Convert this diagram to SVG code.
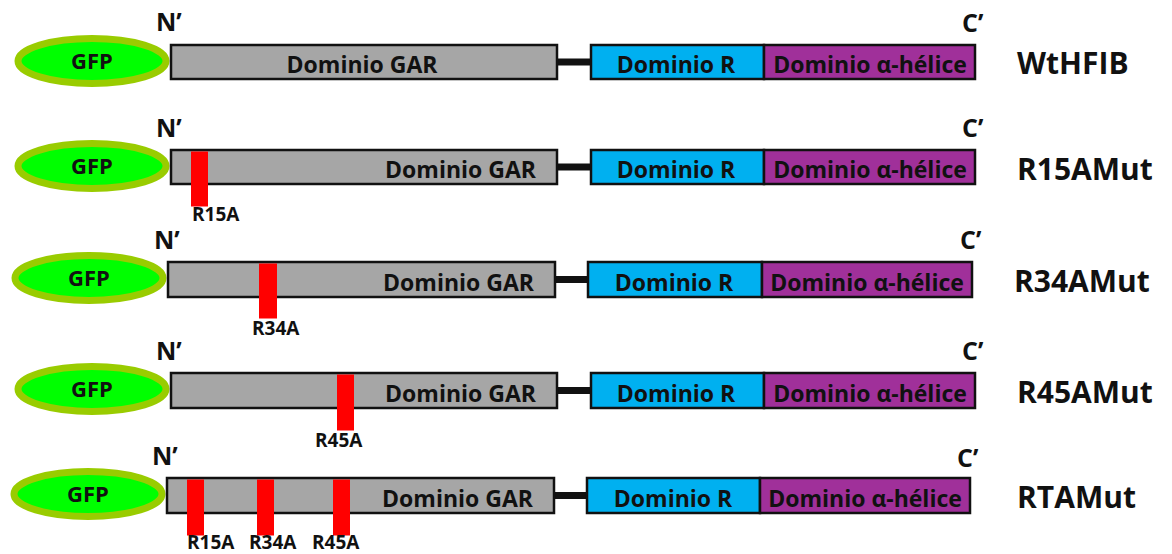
<svg xmlns="http://www.w3.org/2000/svg" width="1172" height="554" viewBox="0 0 1172 554">
  <style>
    text { font-family: "Open Sans", "Liberation Sans", sans-serif; font-weight: bold; fill: #111; }
    .gfp { fill: #00FF00; stroke: #99CC00; stroke-width: 7; }
    .gar { fill: #A6A6A6; stroke: #111; stroke-width: 2.5; }
    .dr { fill: #00B0F0; stroke: #111; stroke-width: 2.5; }
    .hel { fill: #A0309A; stroke: #111; stroke-width: 2.5; }
    .mut { fill: #FF0000; }
    .link { stroke: #111; stroke-width: 7; }
    .dom { font-size: 23px; }
    .term { font-size: 25px; }
    .gfpt { font-size: 22px; text-anchor: middle; }
    .name { font-size: 30px; }
    .mt { font-size: 19px; }
  </style>

  <!-- linkers between the GAR and R domains -->
  <g id="connectors">
    <line class="link" x1="557" y1="62" x2="591" y2="62"/>
    <line class="link" x1="557" y1="167" x2="591" y2="167"/>
    <line class="link" x1="555" y1="279.5" x2="588" y2="279.5"/>
    <line class="link" x1="557" y1="390.5" x2="591" y2="390.5"/>
    <line class="link" x1="554" y1="495.5" x2="587" y2="495.5"/>
  </g>

  <!-- construct 1: WtHFIB -->
  <g id="row-wthfib">
    <g id="gfp-1"><ellipse class="gfp" cx="92" cy="61" rx="74" ry="22.5"/><text class="gfpt" x="92" y="69">GFP</text></g>
    <g id="gar-1"><rect class="gar" x="171" y="45" width="386" height="34"/><text class="dom" x="362" y="73" text-anchor="middle">Dominio GAR</text></g>
    <g id="r-1"><rect class="dr" x="591" y="45" width="173" height="34"/><text class="dom" x="676" y="73" text-anchor="middle">Dominio R</text></g>
    <g id="hel-1"><rect class="hel" x="764" y="45" width="211" height="34"/><text class="dom" x="870" y="73" text-anchor="middle">Dominio α-hélice</text></g>
    <text class="term" x="156" y="31">N’</text>
    <text class="term" x="962" y="32">C’</text>
    <text class="name" x="1017" y="74">WtHFIB</text>
  </g>

  <!-- construct 2: R15AMut -->
  <g id="row-r15a">
    <g id="gfp-2"><ellipse class="gfp" cx="92" cy="166" rx="74" ry="22.5"/><text class="gfpt" x="92" y="174">GFP</text></g>
    <g id="gar-2"><rect class="gar" x="171" y="150" width="386" height="34"/><text class="dom" x="536" y="178" text-anchor="end">Dominio GAR</text></g>
    <g id="mut-2"><rect class="mut" x="191" y="151.5" width="17" height="55"/><text class="mt" x="192" y="221">R15A</text></g>
    <g id="r-2"><rect class="dr" x="591" y="150" width="173" height="34"/><text class="dom" x="676" y="178" text-anchor="middle">Dominio R</text></g>
    <g id="hel-2"><rect class="hel" x="764" y="150" width="211" height="34"/><text class="dom" x="870" y="178" text-anchor="middle">Dominio α-hélice</text></g>
    <text class="term" x="156" y="137">N’</text>
    <text class="term" x="962" y="137">C’</text>
    <text class="name" x="1017" y="180">R15AMut</text>
  </g>

  <!-- construct 3: R34AMut -->
  <g id="row-r34a">
    <g id="gfp-3"><ellipse class="gfp" cx="89" cy="278" rx="74" ry="22.5"/><text class="gfpt" x="89" y="286">GFP</text></g>
    <g id="gar-3"><rect class="gar" x="168" y="262" width="387" height="35"/><text class="dom" x="534" y="291" text-anchor="end">Dominio GAR</text></g>
    <g id="mut-3"><rect class="mut" x="259" y="263.5" width="18" height="55"/><text class="mt" x="252" y="335">R34A</text></g>
    <g id="r-3"><rect class="dr" x="588" y="262" width="174" height="35"/><text class="dom" x="674" y="291" text-anchor="middle">Dominio R</text></g>
    <g id="hel-3"><rect class="hel" x="762" y="262" width="210" height="35"/><text class="dom" x="867" y="291" text-anchor="middle">Dominio α-hélice</text></g>
    <text class="term" x="154" y="249">N’</text>
    <text class="term" x="960" y="249">C’</text>
    <text class="name" x="1014" y="292">R34AMut</text>
  </g>

  <!-- construct 4: R45AMut -->
  <g id="row-r45a">
    <g id="gfp-4"><ellipse class="gfp" cx="92" cy="389" rx="74" ry="22.5"/><text class="gfpt" x="92" y="397">GFP</text></g>
    <g id="gar-4"><rect class="gar" x="171" y="373" width="386" height="35"/><text class="dom" x="536" y="402" text-anchor="end">Dominio GAR</text></g>
    <g id="mut-4"><rect class="mut" x="337" y="374.5" width="17" height="56"/><text class="mt" x="315" y="447">R45A</text></g>
    <g id="r-4"><rect class="dr" x="591" y="373" width="173" height="35"/><text class="dom" x="676" y="402" text-anchor="middle">Dominio R</text></g>
    <g id="hel-4"><rect class="hel" x="764" y="373" width="211" height="35"/><text class="dom" x="870" y="402" text-anchor="middle">Dominio α-hélice</text></g>
    <text class="term" x="156" y="360">N’</text>
    <text class="term" x="962" y="360">C’</text>
    <text class="name" x="1017" y="403">R45AMut</text>
  </g>

  <!-- construct 5: RTAMut -->
  <g id="row-rta">
    <g id="gfp-5"><ellipse class="gfp" cx="88" cy="494" rx="74" ry="22.5"/><text class="gfpt" x="88" y="502">GFP</text></g>
    <g id="gar-5"><rect class="gar" x="167" y="478" width="387" height="35"/><text class="dom" x="533" y="507" text-anchor="end">Dominio GAR</text></g>
    <g id="mut-5a"><rect class="mut" x="187" y="479.5" width="17" height="56"/><text class="mt" x="187" y="549">R15A</text></g>
    <g id="mut-5b"><rect class="mut" x="257" y="479.5" width="17" height="56"/><text class="mt" x="249" y="549">R34A</text></g>
    <g id="mut-5c"><rect class="mut" x="333" y="479.5" width="17" height="56"/><text class="mt" x="312" y="549">R45A</text></g>
    <g id="r-5"><rect class="dr" x="587" y="478" width="173" height="35"/><text class="dom" x="673" y="507" text-anchor="middle">Dominio R</text></g>
    <g id="hel-5"><rect class="hel" x="760" y="478" width="210" height="35"/><text class="dom" x="865" y="507" text-anchor="middle">Dominio α-hélice</text></g>
    <text class="term" x="152" y="465">N’</text>
    <text class="term" x="957" y="467">C’</text>
    <text class="name" x="1017" y="508">RTAMut</text>
  </g>
</svg>
